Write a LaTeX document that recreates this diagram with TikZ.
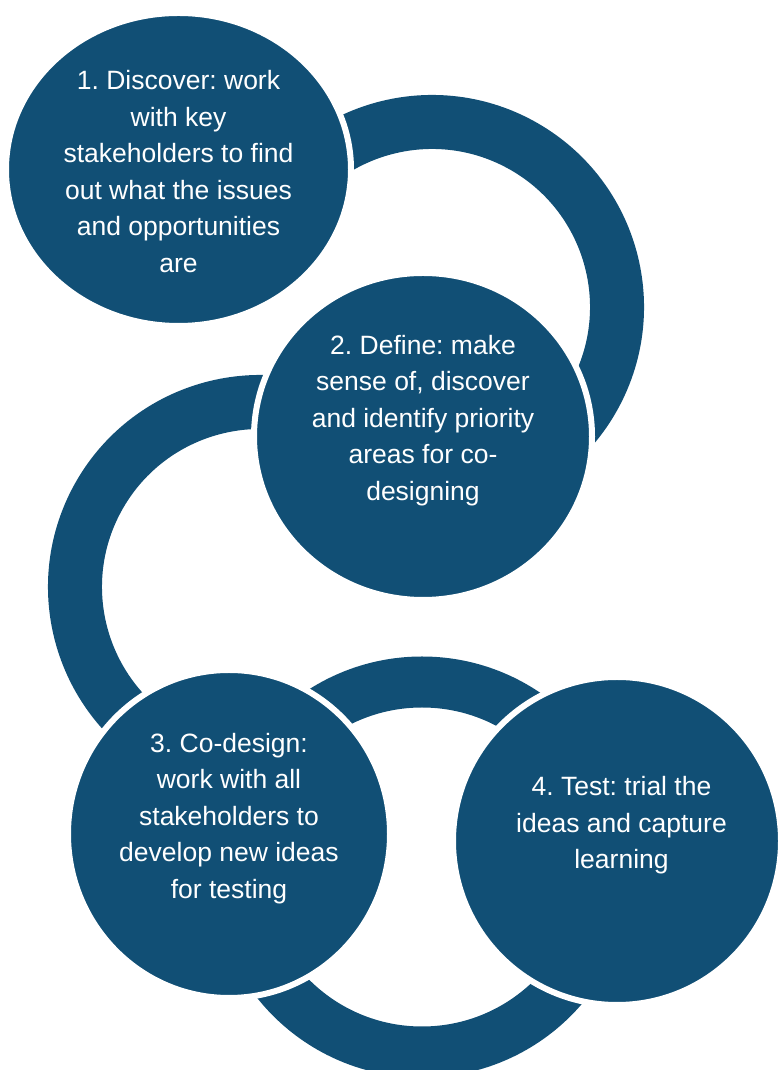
\documentclass[tikz,border=0pt]{standalone}
\usepackage{fontspec}
\setmainfont{Liberation Sans}
\usetikzlibrary{shapes.geometric}
\definecolor{stageblue}{RGB}{17,79,117}
\frenchspacing
\begin{document}
\begin{tikzpicture}[x=1pt,y=1pt,
	ring/.style={draw=stageblue,line width=54pt},
	stage/.style={ellipse,fill=stageblue,draw=white,line width=6pt,inner sep=0pt},
	label/.style={text=white,align=center,font=\fontsize{26.5}{36.6}\selectfont}]
	\useasboundingbox (0,0) rectangle (778,1070);
	% ring centres
	\coordinate (r1) at (432,763);
	\coordinate (r2) at (260,483);
	\coordinate (r3) at (422,203);
	\draw[ring] ([shift={(150:185)}]r1) arc[start angle=150,end angle=-60,radius=185];
	\draw[ring] ([shift={(60:185)}]r2) arc[start angle=60,end angle=240,radius=185];
	\draw[ring,line width=51pt] (r3) circle[radius=185];
	% stages
	\node[stage,minimum width=345pt,minimum height=313pt] (disc) at (178.5,900.5) {};
	\node[stage,minimum width=338pt,minimum height=327pt] (def) at (423,633.5) {};
	\node[stage,minimum width=322pt,minimum height=328pt] (codes) at (229,236) {};
	\node[stage,minimum width=328pt,minimum height=328pt] (test) at (617,229) {};
	\node[label] (discText) at ([yshift=-2]disc.center) {1. Discover: work\\with key\\stakeholders to find\\out what the issues\\and opportunities\\are};
	\node[label] (defText) at ([yshift=16]def.center) {2. Define: make\\sense of, discover\\and identify priority\\areas for co-\\designing};
	\node[label] (codesText) at ([yshift=15.5]codes.center) {3. Co-design:\\work with all\\stakeholders to\\develop new ideas\\for testing};
	\node[label] (testText) at ([xshift=4.5,yshift=15.5]test.center) {4. Test: trial the\\ideas and capture\\learning};
\end{tikzpicture}
\end{document}
